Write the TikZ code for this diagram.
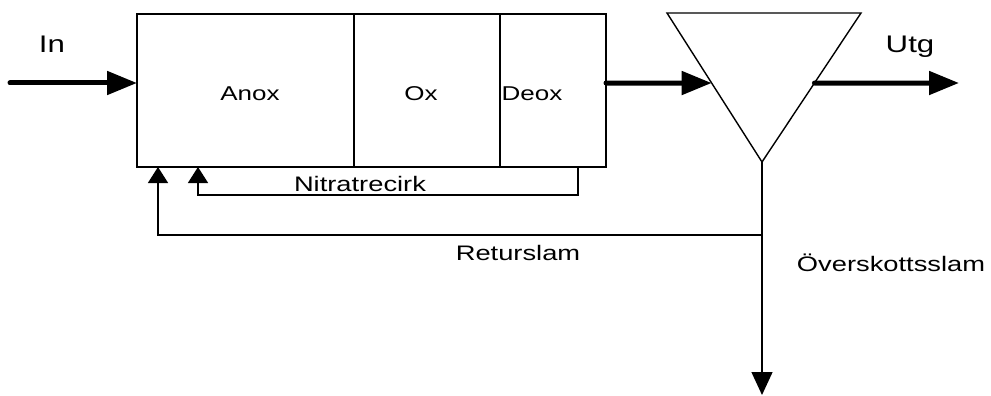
\documentclass[tikz,border=0pt]{standalone}
\usepackage{graphicx}
\usepackage{fontspec}
\setmainfont{Liberation Sans}
\usetikzlibrary{arrows.meta,calc}
% labels are set slightly wide
\newcommand{\widetext}[1]{\scalebox{1.3}[1]{#1}}
\begin{document}
\begin{tikzpicture}[x=1pt,y=-1pt,
  basin/.style={draw,line width=1.4pt,inner sep=0pt,outer sep=0pt,anchor=north west,minimum height=153pt},
  flow/.style={line width=5pt,line cap=round,-{Triangle[length=30pt,width=23pt]}},
  recirc/.style={line width=1.4pt,-{Triangle[length=16pt,width=20pt]}},
  waste/.style={line width=1.4pt,-{Triangle[length=23pt,width=21pt]}},
  big/.style={anchor=base,inner sep=0pt,font=\fontsize{24}{28}\selectfont},
  lbl/.style={anchor=base,inner sep=0pt,font=\fontsize{20}{24}\selectfont},
  mid/.style={anchor=base,inner sep=0pt,font=\fontsize{21}{25}\selectfont}]
\useasboundingbox (0,0) rectangle (991,396);

% bioreactor zones
\node[basin,minimum width=217pt] (anox) at (137,14) {};
\node[basin,minimum width=146pt] (ox) at (354,14) {};
\node[basin,minimum width=106pt] (deox) at (500,14) {};

% settler
\coordinate (tl) at (667,13);
\coordinate (tr) at (861,13);
\coordinate (bot) at (762,162);
\draw[line width=1.4pt,line join=miter] (tl) -- (tr) -- (bot) -- cycle;
\coordinate (setin) at ($(tl)!0.47!(bot)$);
\coordinate (setout) at ($(tr)!0.47!(bot)$);

% main flow
\coordinate (inflow) at (10,83);
\coordinate (outflow) at (959,83);
\draw[flow] (inflow) -- (inflow -| anox.west);
\draw[flow] (inflow -| deox.east) -- (setin);
\draw[flow] (setout) -- (outflow);

% sludge lines
\coordinate (excess) at (762,395);
\coordinate (ret) at (762,235);
\coordinate (retin) at (158,167);
\coordinate (nitout) at (578,167);
\coordinate (nitin) at (198,167);
\draw[waste] (bot) -- (excess);
\draw[recirc] (ret) -| (retin);
\draw[recirc] (nitout) -- ++(0,28) -| (nitin);

% labels
\node[big] (lin) at (52,53) {\widetext{In}};
\node[big] (lutg) at (910,53) {\widetext{Utg}};
\node[lbl] (lanox) at (250,100) {\widetext{Anox}};
\node[lbl] (lox) at (421,100) {\widetext{Ox}};
\node[lbl] (ldeox) at (532,100) {\widetext{Deox}};
\node[mid] (lnit) at (360,191) {\widetext{Nitratrecirk}};
\node[mid] (lret) at (518,260) {\widetext{Returslam}};
\node[mid] (lexc) at (891,271) {\widetext{Överskottsslam}};
\end{tikzpicture}
\end{document}
